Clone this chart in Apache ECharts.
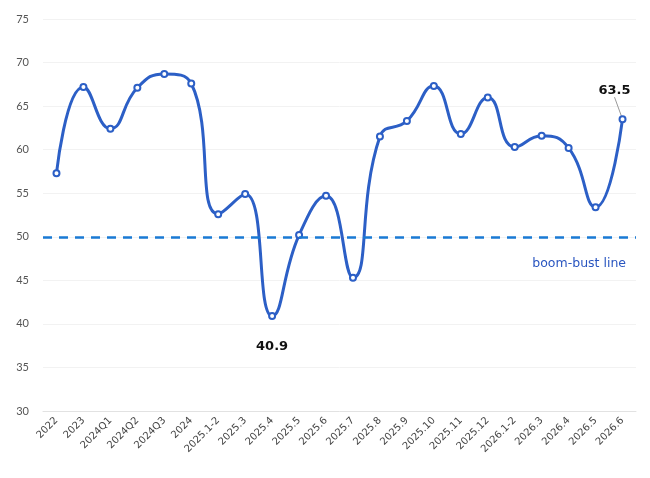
<!DOCTYPE html>
<html>
<head>
<meta charset="utf-8">
<script src="https://cdn.jsdelivr.net/npm/echarts@6/dist/echarts.min.js"></script>
<style>
  html, body { margin: 0; padding: 0; background: #fff; }
  #chart { width: 650px; height: 478px; }
</style>
</head>
<body>
<div id="chart"></div>
<script>
const periods = ["2022", "2023", "2024Q1", "2024Q2", "2024Q3", "2024", "2025.1-2", "2025.3", "2025.4",
  "2025.5", "2025.6", "2025.7", "2025.8", "2025.9", "2025.10", "2025.11", "2025.12", "2026.1-2",
  "2026.3", "2026.4", "2026.5", "2026.6"];
const index = [57.3, 67.2, 62.4, 67.1, 68.7, 67.6, 52.6, 54.9, 40.9,
  50.2, 54.7, 45.3, 61.5, 63.3, 67.3, 61.8, 66.0, 60.3,
  61.6, 60.2, 53.4, 63.5];
const boomBust = 50;
const boomBustLabel = "boom-bust line";
const yTicks = { min: 30, max: 75, step: 5 };

const chartDom = document.getElementById("chart");
const chart = echarts.init(chartDom);

const blue = "#2c5fc6";
const lastIdx = index.length - 1;
const minIdx = index.indexOf(Math.min(...index));

const seriesData = index.map((v, i) => {
  if (i === lastIdx) {
    return {
      value: v,
      label: { show: true, position: "top", distance: 4 },
      labelLine: { show: true, lineStyle: { color: "#999", width: 1 } }
    };
  }
  if (i === minIdx) {
    return { value: v, label: { show: true, position: "bottom", distance: 20 } };
  }
  return v;
});

const option = {
  animation: false,
  grid: { left: 43, right: 14, top: 19, bottom: 67 },
  xAxis: {
    type: "category",
    data: periods,
    boundaryGap: true,
    axisLine: { show: true, lineStyle: { color: "#e2e2e2" } },
    axisTick: { show: false },
    axisLabel: {
      rotate: 45,
      interval: 0,
      color: "#444",
      fontSize: 10,
      fontFamily: "DejaVu Sans",
      margin: 8
    }
  },
  yAxis: {
    type: "value",
    min: yTicks.min,
    max: yTicks.max,
    interval: yTicks.step,
    axisLine: { show: false },
    axisTick: { show: false },
    axisLabel: { color: "#555", fontSize: 11, fontFamily: "Lato", margin: 14 },
    splitLine: { lineStyle: { color: "#f2f2f2" } }
  },
  series: [{
    type: "line",
    data: seriesData,
    smooth: 0.5,
    symbol: "emptyCircle",
    symbolSize: 6,
    lineStyle: { color: blue, width: 3 },
    itemStyle: { color: blue, borderWidth: 1.5, borderColor: blue },
    label: {
      show: false,
      color: "#111",
      fontWeight: "bold",
      fontSize: 13,
      fontFamily: "DejaVu Sans"
    },
    labelLayout: (params) => params.dataIndex === lastIdx ? { dx: -8, dy: -14 } : {},
    markLine: {
      silent: true,
      symbol: "none",
      data: [{ yAxis: boomBust }],
      lineStyle: { color: "#1a7ad4", type: [9, 7], width: 2.5 },
      label: {
        show: true,
        position: "insideEndBottom",
        formatter: boomBustLabel,
        color: "#2a56c0",
        fontSize: 12.5,
        fontFamily: "DejaVu Sans",
        distance: [10, 20]
      }
    }
  }]
};

chart.setOption(option);
window.addEventListener("resize", () => chart.resize());
</script>
</body>
</html>
